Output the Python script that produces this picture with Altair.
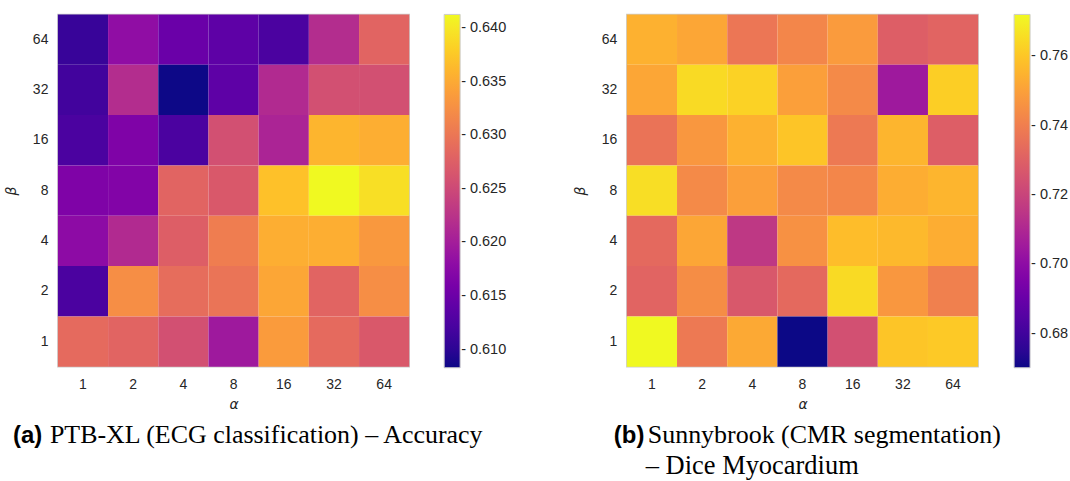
import altair as alt
import pandas as pd

alphas = ["1", "2", "4", "8", "16", "32", "64"]
betas = ["64", "32", "16", "8", "4", "2", "1"]  # top to bottom

# rows follow betas (top to bottom), columns follow alphas
ptb_values = [
    [0.6109, 0.6182, 0.6149, 0.6139, 0.6123, 0.6218, 0.6281],
    [0.6116, 0.6218, 0.6083, 0.6139, 0.6215, 0.6258, 0.6258],
    [0.6123, 0.6166, 0.6123, 0.6258, 0.6208, 0.6360, 0.6354],
    [0.6166, 0.6169, 0.6281, 0.6268, 0.6370, 0.6413, 0.6393],
    [0.6179, 0.6215, 0.6274, 0.6307, 0.6354, 0.6354, 0.6334],
    [0.6123, 0.6324, 0.6291, 0.6298, 0.6347, 0.6281, 0.6324],
    [0.6288, 0.6281, 0.6258, 0.6195, 0.6337, 0.6288, 0.6268],
]
sunny_values = [
    [0.7547, 0.7516, 0.7373, 0.7424, 0.7485, 0.7292, 0.7312],
    [0.7516, 0.7649, 0.7628, 0.7496, 0.7434, 0.7047, 0.7618],
    [0.7363, 0.7475, 0.7547, 0.7598, 0.7383, 0.7557, 0.7292],
    [0.7659, 0.7434, 0.7496, 0.7434, 0.7424, 0.7536, 0.7557],
    [0.7332, 0.7516, 0.7159, 0.7455, 0.7577, 0.7567, 0.7536],
    [0.7312, 0.7445, 0.7271, 0.7332, 0.7649, 0.7475, 0.7404],
    [0.7720, 0.7383, 0.7526, 0.6700, 0.7241, 0.7598, 0.7608],
]
ptb_ticks = [0.610, 0.615, 0.620, 0.625, 0.630, 0.635, 0.640]
sunny_ticks = [0.68, 0.70, 0.72, 0.74, 0.76]
ptb_domain = [0.6083, 0.6413]
sunny_domain = [0.6702, 0.7721]
caption_a = ["(a)", "PTB-XL (ECG classification) – Accuracy"]
caption_b = ["(b)", "Sunnybrook (CMR segmentation)", "– Dice Myocardium"]

W, H = 352, 353


def long_df(values):
    rows = []
    for i, b in enumerate(betas):
        for j, a in enumerate(alphas):
            rows.append({"alpha": a, "beta": b, "value": values[i][j]})
    return pd.DataFrame(rows)


def text_layer(label, x, y, font, size, weight="normal"):
    return alt.Chart(pd.DataFrame({"label": [label]})).mark_text(
        align="left", baseline="alphabetic", font=font, fontSize=size,
        fontWeight=weight, color="black"
    ).encode(text="label:N", x=alt.value(x), y=alt.value(y))


def heat(values, domain, ticks, fmt, offset):
    return alt.Chart(long_df(values)).mark_rect().encode(
        x=alt.X("alpha:O", sort=alphas,
                scale=alt.Scale(paddingInner=0, paddingOuter=0),
                axis=alt.Axis(title="α", labelAngle=0, ticks=False, tickSize=0,
                              domain=False, labelPadding=11, titlePadding=6)),
        y=alt.Y("beta:O", sort=betas,
                scale=alt.Scale(paddingInner=0, paddingOuter=0),
                axis=alt.Axis(title="β", ticks=False, tickSize=0, domain=False,
                              labelPadding=10, titlePadding=14)),
        color=alt.Color("value:Q",
                        scale=alt.Scale(scheme="plasma", domain=domain),
                        legend=alt.Legend(
                            title=None, orient="right", offset=offset, padding=0,
                            gradientLength=354, gradientThickness=16,
                            gradientStrokeColor="#cccccc", gradientStrokeWidth=1,
                            values=ticks, labelOverlap=False, labelOffset=1,
                            labelExpr="'- ' + format(datum.value, '%s')" % fmt,
                            labelFont="Liberation Sans", labelFontSize=14.5,
                            labelColor="#262626")),
    ).properties(width=W, height=H)


left = alt.layer(
    heat(ptb_values, ptb_domain, ptb_ticks, ".3f", 35),
    text_layer(caption_a[0], -45, 429, "Liberation Sans", 24, "bold"),
    text_layer(caption_a[1], -8, 429, "Liberation Serif", 26),
)
right = alt.layer(
    heat(sunny_values, sunny_domain, sunny_ticks, ".2f", 36),
    text_layer(caption_b[0], -13, 429, "Liberation Sans", 24, "bold"),
    text_layer(caption_b[1], 21, 429, "Liberation Serif", 26),
    text_layer(caption_b[2], 19, 460, "Liberation Serif", 26.5),
)

chart = alt.hconcat(left, right, spacing=218, bounds="flush").resolve_scale(
    color="independent"
).properties(
    padding={"left": 3, "top": 13, "right": 0, "bottom": 0}
).configure_view(
    stroke="#cccccc", strokeWidth=1.5
).configure_axis(
    labelFont="Liberation Sans", labelFontSize=14, labelColor="#262626",
    titleFont="DejaVu Sans", titleFontSize=14, titleFontStyle="italic",
    titleFontWeight="normal", titleColor="#262626"
)

chart.save("out.html", embed_options={"renderer": "svg", "actions": False})
